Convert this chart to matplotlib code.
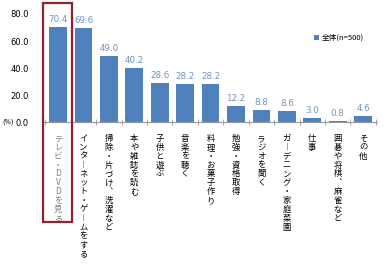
import matplotlib
matplotlib.use("Agg")
import matplotlib.pyplot as plt
import matplotlib.patches as mpatches
import numpy as np

plt.rcParams['font.family'] = ['Noto Sans CJK JP', 'DejaVu Sans']

categories = ["テレビ・DVDを見る", "インターネット・ゲームをする", "掃除・片づけ、洗濯など",
              "本や雑誌を読む", "子供と遊ぶ", "音楽を聴く", "料理・お菓子作り", "勉強・資格取得",
              "ラジオを聞く", "ガーデニング・家庭菜園", "仕事", "囲碁や将棋、麻雀など", "その他"]
values = [70.4, 69.6, 49.0, 40.2, 28.6, 28.2, 28.2, 12.2, 8.8, 8.6, 3.0, 0.8, 4.6]
yticks = [0, 20, 40, 60, 80]
series_name = "全体(n=500)"

bar_color = "#4f81bd"
label_color = "#7093bd"

def vertical(s):
    # stack characters top-to-bottom, use vertical forms for long vowel mark and comma
    s = s.replace("ー", "︱").replace("、", "︑")
    return "\n".join(s)

fig = plt.figure(figsize=(3.9, 2.69), dpi=100)
ax = fig.add_axes([0.113, 0.546, 0.854, 0.402])

x = np.arange(len(categories))
bars = ax.bar(x, values, width=0.7, color=bar_color, label=series_name, zorder=2)

for xi, v in zip(x, values):
    ax.text(xi, v + 2.2, f"{v:.1f}", ha="center", va="bottom", fontsize=6.3,
            color=label_color, family="DejaVu Sans")

ax.set_xlim(-0.55, len(categories) - 0.45)
ax.set_ylim(0, 80)
ax.set_yticks(yticks)
ax.set_yticklabels([f"{t:.1f}" for t in yticks], fontsize=6.0, family="DejaVu Sans")
ax.tick_params(axis="y", length=0, pad=11)

ax.set_xticks([])
ax.set_xticks(np.arange(-0.5, len(categories) + 0.5, 1), minor=True)
ax.tick_params(axis="x", which="minor", direction="inout", length=5, color="#999999")

for side in ["top", "right", "left"]:
    ax.spines[side].set_visible(False)
ax.spines["bottom"].set_color("#999999")
ax.spines["bottom"].set_linewidth(0.8)

# category labels written vertically
trans = ax.get_xaxis_transform()
for i, c in enumerate(categories):
    col = "#808080" if i == 0 else "black"
    ax.text(i, -0.11, vertical(c), transform=trans, ha="center", va="top",
            fontsize=6.0, linespacing=0.98, color=col, clip_on=False)

ax.text(-0.108, 0, "(%)", transform=ax.transAxes, ha="center", va="center",
        fontsize=4.8, family="DejaVu Sans", rotation=0)

# highlight box around first category
box = mpatches.Rectangle((43 / 390, 1 - 222 / 269), 29 / 390, 219 / 269,
                         transform=fig.transFigure, fill=False,
                         edgecolor="#8c2234", linewidth=1.6)
fig.patches.append(box)

leg = ax.legend(loc="upper right", bbox_to_anchor=(0.98, 0.88), frameon=False,
                fontsize=5.5, handlelength=0.6, handleheight=0.6, handletextpad=0.3)

fig.savefig("out.png", dpi=100)
